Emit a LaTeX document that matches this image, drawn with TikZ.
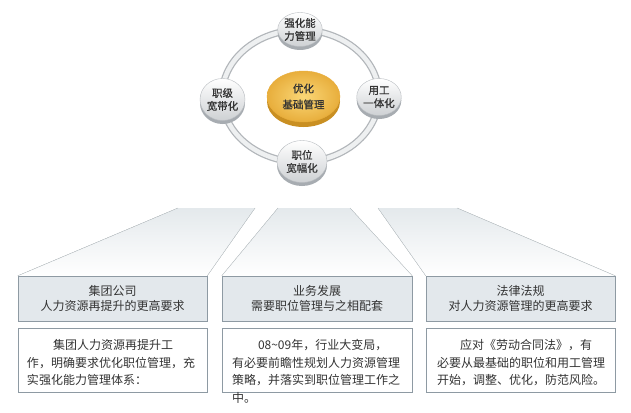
\documentclass[tikz,border=0pt]{standalone}
\usepackage{fontspec}
\newfontfamily\cjk{Noto Sans CJK SC}
\newfontfamily\cjkbold[FakeBold=0.8]{Noto Sans CJK SC}
\usetikzlibrary{shapes.geometric, positioning, calc}

\definecolor{txt}{HTML}{333333}
\definecolor{boxline}{HTML}{8E9AA3}
\definecolor{headfill}{HTML}{E3E8EC}
\definecolor{fanline}{HTML}{C9D1D5}
\definecolor{fantop}{HTML}{E4E9EC}
\definecolor{ringdark}{HTML}{B2B6BA}
\definecolor{ringlight}{HTML}{EEF0F1}
\definecolor{rimgray}{HTML}{A7ACB1}
\definecolor{discedge}{HTML}{B9BDC1}
\definecolor{goldin}{HTML}{FAD777}
\definecolor{goldout}{HTML}{E8AE3C}
\definecolor{goldrim}{HTML}{C98F22}

\begin{document}
\begin{tikzpicture}[x=1pt, y=1pt,
	silver/.style={ellipse, inner sep=0, draw=discedge, top color=white, bottom color=discedge!70,
		preaction={fill=rimgray, transform canvas={yshift=-3.5pt}},
		font=\cjkbold\fontsize{10.5}{13}\selectfont, align=center, text=txt},
	gold/.style={ellipse, inner sep=0, draw=goldout, shading=radial, inner color=goldin, outer color=goldout,
		preaction={fill=goldrim, transform canvas={yshift=-5pt}},
		font=\cjkbold\fontsize{10.5}{16}\selectfont, align=center, text=txt},
	headbox/.style={draw=boxline, fill=headfill, minimum width=189, minimum height=45, inner sep=0,
		font=\cjk\fontsize{12}{15}\selectfont, align=center, text=txt},
	bodybox/.style={draw=boxline, fill=white, minimum width=189, minimum height=64, inner sep=0},
	bodytext/.style={anchor=north west, inner sep=0, font=\cjk\fontsize{12}{17.5}\selectfont, align=left, text=txt},
	fan/.style={top color=fantop, middle color=white, bottom color=white}]
	\useasboundingbox[fill=white] (0,0) rectangle (631,-412);

	% ring and discs
	\coordinate (mid) at (300.5,-96);
	\draw[ringdark, line width=7] (mid) ellipse [x radius=78.5, y radius=66];
	\draw[ringlight, line width=4.5] (mid) ellipse [x radius=78.5, y radius=66];

	\node[gold, minimum width=73, minimum height=51] (core) at (303.5,-96.5) {优化\\基础管理};
	\node[silver, minimum width=40, minimum height=34] (top) at (300,-29.5) {强化能\\力管理};
	\node[silver, minimum width=45, minimum height=42] (left) at (222.5,-99.5) {职级\\宽带化};
	\node[silver, minimum width=38, minimum height=37] (right) at (379,-97) {用工\\一体化};
	\node[silver, minimum width=50, minimum height=42] (bottom) at (302,-161.5) {职位\\宽幅化};

	% header boxes
	\node[headbox] (h1) at (112.5,-298.5) {集团公司\\人力资源再提升的更高要求};
	\node[headbox, minimum width=190] (h2) at (317,-298.5) {业务发展\\需要职位管理与之相配套};
	\node[headbox] (h3) at (520.5,-298.5) {法律法规\\对人力资源管理的更高要求};

	% fans above the headers
	\coordinate (f1a) at (178,-208); \coordinate (f1b) at (255,-208);
	\coordinate (f2a) at (278,-208); \coordinate (f2b) at (350,-208);
	\coordinate (f3a) at (378,-208); \coordinate (f3b) at (457,-208);
	\foreach \i in {1,2,3}{
		\fill[fan] (h\i.north west) -- (f\i a) -- (f\i b) -- (h\i.north east) -- cycle;
		\draw[fanline] (h\i.north west) -- (f\i a);
		\draw[fanline] (h\i.north east) -- (f\i b);
	}

	% body boxes
	\node[bodybox, below=7 of h1] (b1) {};
	\node[bodybox, minimum width=190, below=7 of h2] (b2) {};
	\node[bodybox, below=7 of h3] (b3) {};
	\node[bodytext] (t1) at ($(b1.north west)+(9,-11)$) {\hspace*{26pt}集团人力资源再提升工\\作，明确要求优化职位管理，充\\实强化能力管理体系：};
	\node[bodytext] (t2) at ($(b2.north west)+(10,-11)$) {\hspace*{26pt}08{\char"7E}09年，行业大变局，\\有必要前瞻性规划人力资源管理\\策略，并落实到职位管理工作之\\中。};
	\node[bodytext] (t3) at ($(b3.north west)+(11,-11)$) {\hspace*{23pt}应对《劳动合同法》，有\\必要从最基础的职位和用工管理\\开始，调整、优化，防范风险。};
\end{tikzpicture}
\end{document}
